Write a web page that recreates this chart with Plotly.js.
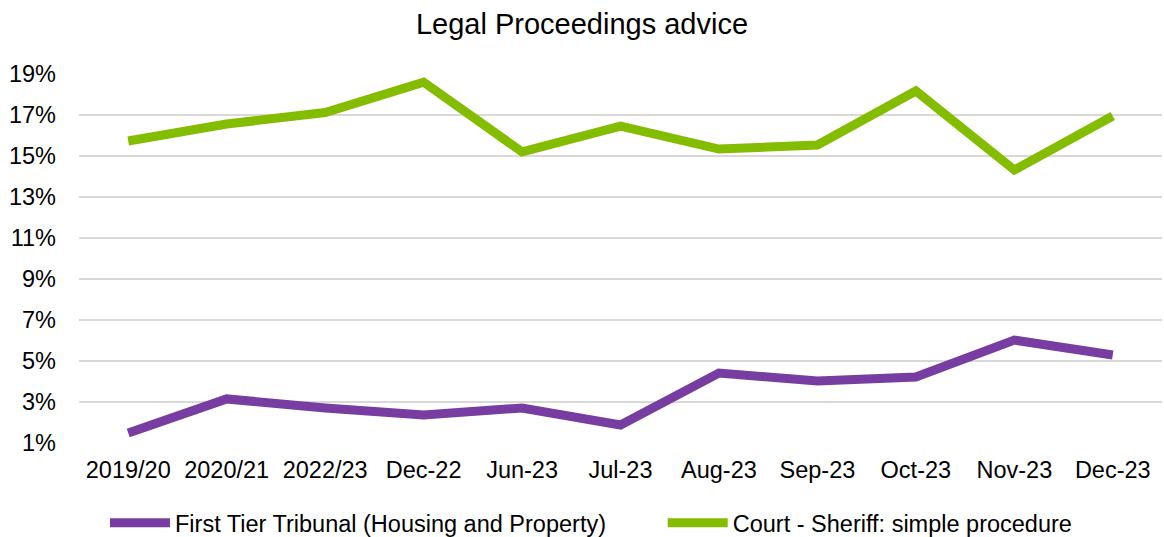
<!DOCTYPE html>
<html>
<head>
<meta charset="utf-8">
<script src="https://cdn.plot.ly/plotly-3.0.1.min.js"></script>
<style>html,body{margin:0;padding:0;background:#fff}#chart{width:1164px;height:537px}</style>
</head>
<body>
<div id="chart"></div>
<script>
const categories = ["2019/20","2020/21","2022/23","Dec-22","Jun-23","Jul-23","Aug-23","Sep-23","Oct-23","Nov-23","Dec-23"];
const tribunalValues = [1.49, 3.15, 2.71, 2.37, 2.71, 1.88, 4.41, 4.02, 4.22, 6.02, 5.29];
const sheriffValues = [15.73, 16.56, 17.12, 18.6, 15.2, 16.46, 15.34, 15.54, 18.17, 14.32, 16.95];
const tickVals = [1,3,5,7,9,11,13,15,17,19];
const tickText = tickVals.map(v => v + "%");

const font = "Liberation Sans, Arial, sans-serif";
const traces = [
  {x: categories, y: tribunalValues, name: "First Tier Tribunal (Housing and Property)", type: "scatter", mode: "lines",
   line: {color: "#773DA0", width: 9}, legend: "legend"},
  {x: categories, y: sheriffValues, name: "Court - Sheriff: simple procedure", type: "scatter", mode: "lines",
   line: {color: "#84BD00", width: 9}, legend: "legend2"}
];
const legendBase = {orientation: "h", yanchor: "middle", y: -0.217, xanchor: "left", font: {size: 23.5}, itemwidth: 60, bgcolor: "rgba(0,0,0,0)"};
const layout = {
  width: 1164, height: 537,
  margin: {l: 79, r: 2, t: 74, b: 94, autoexpand: false},
  paper_bgcolor: "#fff", plot_bgcolor: "#fff",
  font: {family: font, size: 23.5, color: "#000"},
  title: {text: "Legal Proceedings advice", font: {family: font, size: 29, color: "#000"}, x: 0.5, xanchor: "center", y: 0.955, yanchor: "middle"},
  xaxis: {type: "category", range: [-0.5, 10.5], showgrid: false, zeroline: false, showline: false, ticks: "",
          tickfont: {size: 23.5}, ticklabelstandoff: 10, automargin: false},
  yaxis: {range: [1, 19], tickvals: tickVals, ticktext: tickText, showgrid: true, gridcolor: "#D9D9D9", gridwidth: 1.5,
          zeroline: false, showline: false, ticks: "", tickfont: {size: 23.5}, ticklabelstandoff: 22, automargin: false},
  showlegend: true,
  legend: Object.assign({}, legendBase, {x: 0.024}),
  legend2: Object.assign({}, legendBase, {x: 0.539})
};
Plotly.newPlot("chart", traces, layout, {displayModeBar: false, staticPlot: true});
</script>
</body>
</html>
